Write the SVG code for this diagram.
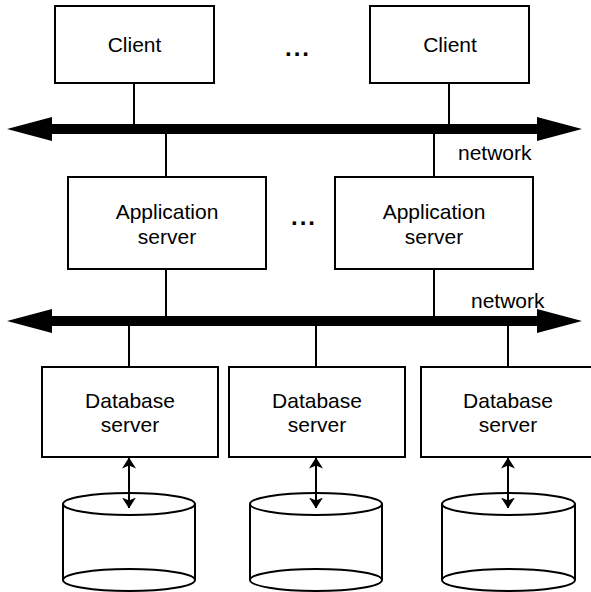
<svg xmlns="http://www.w3.org/2000/svg" width="591" height="592" viewBox="0 0 591 592">
<style>
.box{fill:#fff;stroke:#000;stroke-width:2}
.t{font-family:"Liberation Sans",Arial,sans-serif;font-size:21px;fill:#000;text-anchor:middle}
.tl{font-family:"Liberation Sans",Arial,sans-serif;font-size:21px;fill:#000}
.dots{font-family:"Liberation Sans",Arial,sans-serif;font-size:24px;font-weight:bold;letter-spacing:2px;fill:#000}
.ln{stroke:#000;stroke-width:2;fill:none}
.cyl{fill:#fff;stroke:#000;stroke-width:2}
</style>
<defs>
<marker id="ah" viewBox="0 0 11 14" refX="10.5" refY="7" markerWidth="11" markerHeight="14" markerUnits="userSpaceOnUse" orient="auto-start-reverse">
<path d="M0,0 L11,7 L0,14 L3,7 Z" fill="#000"/>
</marker>
</defs>
<rect width="591" height="592" fill="#fff"/>
<g id="connectors">
<polygon points="7,129 52,117 52,124 537,124 537,117 582,129 537,141 537,134 52,134 52,141" fill="#000"/>
<polygon points="7,321 52,309 52,316 537,316 537,309 582,321 537,333 537,326 52,326 52,333" fill="#000"/>
<line class="ln" x1="134" y1="83" x2="134" y2="125"/>
<line class="ln" x1="449" y1="83" x2="449" y2="125"/>
<line class="ln" x1="166" y1="133" x2="166" y2="177"/>
<line class="ln" x1="434" y1="133" x2="434" y2="177"/>
<line class="ln" x1="166" y1="269" x2="166" y2="317"/>
<line class="ln" x1="434" y1="269" x2="434" y2="317"/>
<line class="ln" x1="129" y1="325" x2="129" y2="367"/>
<line class="ln" x1="316" y1="325" x2="316" y2="367"/>
<line class="ln" x1="508" y1="325" x2="508" y2="367"/>
</g>
<text class="tl" x="458" y="160">network</text>
<text class="tl" x="471" y="308">network</text>
<text class="dots" x="285" y="56">...</text>
<text class="dots" x="291" y="225">...</text>
<g id="client1"><rect class="box" x="55" y="6" width="159" height="77"/><text class="t" x="134.5" y="52">Client</text></g>
<g id="client2"><rect class="box" x="370" y="6" width="159" height="77"/><text class="t" x="450" y="52">Client</text></g>
<g id="app1"><rect class="box" x="68" y="177" width="198" height="92"/><text class="t" x="167" y="219">Application</text><text class="t" x="167" y="244">server</text></g>
<g id="app2"><rect class="box" x="335" y="177" width="198" height="92"/><text class="t" x="434" y="219">Application</text><text class="t" x="434" y="244">server</text></g>
<g id="db1"><rect class="box" x="42" y="367" width="176" height="90"/><text class="t" x="130" y="408">Database</text><text class="t" x="130" y="432">server</text></g>
<g id="db2"><rect class="box" x="229" y="367" width="176" height="90"/><text class="t" x="317" y="408">Database</text><text class="t" x="317" y="432">server</text></g>
<g id="db3"><rect class="box" x="421" y="367" width="176" height="90"/><text class="t" x="508" y="408">Database</text><text class="t" x="508" y="432">server</text></g>
<g id="disk1"><path class="cyl" d="M63,504 L63,580 A66,11 0 0 0 195,580 L195,504"/><ellipse class="cyl" cx="129" cy="504" rx="66" ry="11"/><path class="ln" d="M63,580 A66,11 0 0 1 195,580"/></g>
<g id="disk2"><path class="cyl" d="M250,504 L250,580 A66,11 0 0 0 382,580 L382,504"/><ellipse class="cyl" cx="316" cy="504" rx="66" ry="11"/><path class="ln" d="M250,580 A66,11 0 0 1 382,580"/></g>
<g id="disk3"><path class="cyl" d="M442,504 L442,580 A66.5,11 0 0 0 575,580 L575,504"/><ellipse class="cyl" cx="508.5" cy="504" rx="66.5" ry="11"/><path class="ln" d="M442,580 A66.5,11 0 0 1 575,580"/></g>
<g id="dbarrows">
<line class="ln" x1="129" y1="458" x2="129" y2="508" marker-start="url(#ah)" marker-end="url(#ah)"/>
<line class="ln" x1="316" y1="458" x2="316" y2="508" marker-start="url(#ah)" marker-end="url(#ah)"/>
<line class="ln" x1="508" y1="458" x2="508" y2="508" marker-start="url(#ah)" marker-end="url(#ah)"/>
</g>
</svg>
